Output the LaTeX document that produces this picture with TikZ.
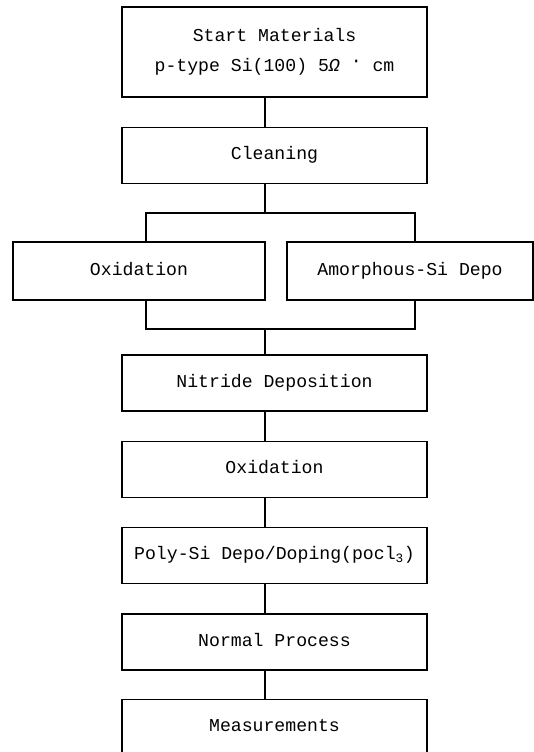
\documentclass[tikz,border=0pt]{standalone}
\usepackage{fontspec}
\setmonofont{Liberation Mono}
\usetikzlibrary{positioning}
\begin{document}
\begin{tikzpicture}[node distance=0.87cm, line width=1.1pt,
    stepbox/.style={draw, rectangle, minimum width=9.15cm, minimum height=1.68cm, text height=2.1ex, text depth=.4ex, font=\ttfamily\fontsize{15.5}{26}\selectfont}]
    \useasboundingbox (0,0) rectangle (16.02,-22.56);
    \coordinate (spine) at (7.95,0);

    \node (start) [stepbox, minimum height=2.7cm, text height={}, text depth={}, align=center] at (8.235,-1.56) {Start Materials\\p-type Si(100) 5{\itshape Ω} \raisebox{.6ex}{·} cm};
    \node (clean) [stepbox, below=of start] {Cleaning};
    \node (oxa) [stepbox, minimum width=7.56cm, minimum height=1.74cm] at (4.17,-8.13) {Oxidation};
    \node (amor) [stepbox, minimum width=7.38cm, minimum height=1.74cm] at (12.3,-8.13) {Amorphous-Si Depo};
    \node (nitride) [stepbox] at (8.235,-11.49) {Nitride Deposition};
    \node (oxb) [stepbox, below=of nitride] {Oxidation};
    \node (poly) [stepbox, below=of oxb] {Poly-Si Depo/Doping(pocl\textsubscript{3})};
    \node (normal) [stepbox, below=of poly] {Normal Process};
    \node (meas) [stepbox, below=0.85cm of normal] {Measurements};

    % fork and join round the two parallel steps
    \coordinate (forkl) at (4.38,-6.39);
    \coordinate (forkr) at (12.45,-6.39);
    \coordinate (joinl) at (4.38,-9.87);
    \coordinate (joinr) at (12.45,-9.87);

    \draw (start.south -| spine) -- (clean.north -| spine);
    \draw (clean.south -| spine) -- (forkl -| spine);
    \draw (oxa.north -| forkl) -- (forkl) -- (forkr) -- (amor.north -| forkr);
    \draw (oxa.south -| joinl) -- (joinl) -- (joinr) -- (amor.south -| joinr);
    \draw (joinl -| spine) -- (nitride.north -| spine);
    \foreach \a/\b in {nitride/oxb, oxb/poly, poly/normal, normal/meas}
        \draw (\a.south -| spine) -- (\b.north -| spine);
\end{tikzpicture}
\end{document}
